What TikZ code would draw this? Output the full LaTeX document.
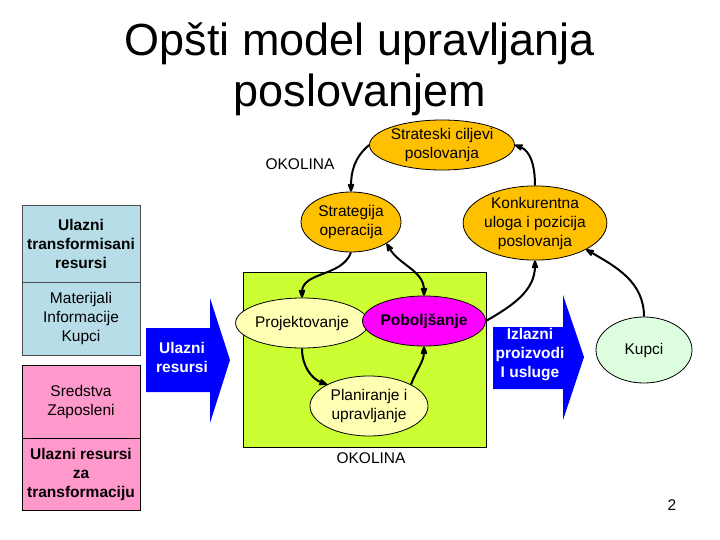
\documentclass[tikz,border=0pt]{standalone}
\usepackage{fontspec}
\setmainfont{Liberation Sans}
\usetikzlibrary{arrows.meta, positioning, shapes.geometric}
\definecolor{boxblue}{HTML}{B7DDE8}
\definecolor{boxpink}{HTML}{FF99CC}
\definecolor{boxgreen}{HTML}{CCFF33}
\definecolor{ovorange}{HTML}{FFC000}
\definecolor{ovyellow}{HTML}{FFFFB3}
\definecolor{ovmint}{HTML}{DDFFE0}
\definecolor{ovmagenta}{HTML}{FF00FF}
\definecolor{arrblue}{HTML}{0000FF}
\begin{document}
\begin{tikzpicture}[x=1pt,y=-1pt,>={Stealth[round]},
	res/.style={draw=black!70,thick,align=center,minimum width=118pt,inner sep=1pt,font=\fontsize{15.5}{19}\selectfont},
	oval/.style={ellipse,draw=black,thick,align=center,inner sep=0pt,font=\fontsize{15.5}{19}\selectfont},
	flow/.style={->,line width=2pt}]
	
	\useasboundingbox (0,0) rectangle (720,540);
	
	\node at (360,44) {\fontsize{45}{50}\selectfont Opšti model upravljanja};
	\node at (360,95) {\fontsize{45}{50}\selectfont poslovanjem};
	
	% ulazni resursi
	\node (uts) [res,fill=boxblue,minimum height=77pt] at (81,243.5) {\textbf{Ulazni}\\\textbf{transformisani}\\\textbf{resursi}};
	\node (mat) [res,fill=boxblue,minimum height=73pt] at (81,318.5) {Materijali\\Informacije\\Kupci};
	\node (sre) [res,fill=boxpink,minimum height=73pt,draw=black] at (81,401.5) {Sredstva\\Zaposleni};
	\node (urz) [res,fill=boxpink,minimum height=72pt,draw=black] at (81,474) {\textbf{Ulazni resursi}\\\textbf{za}\\\textbf{transformaciju}};
	
	% velike strelice
	\fill[arrblue] (146,328) -- (210,328) -- (210,298) -- (230,360) -- (210,423) -- (210,392) -- (146,392) -- cycle;
	\node (ulr) [white,align=center,font=\fontsize{15.5}{19}\selectfont\bfseries] at (182,357) {Ulazni\\resursi};
	\fill[arrblue] (493,327) -- (563,327) -- (563,295) -- (584,357) -- (563,420) -- (563,389) -- (493,389) -- cycle;
	\node (izl) [white,align=center,font=\fontsize{15.5}{19}\selectfont\bfseries] at (530,355) {Izlazni\\proizvodi\\I usluge};
	
	\node (proces) [draw=black,thick,fill=boxgreen,minimum width=243pt,minimum height=175pt] at (364.5,359.5) {};
	
	\node (okg) [font=\fontsize{15.5}{19}\selectfont] at (300,164) {OKOLINA};
	\node (okd) [font=\fontsize{15.5}{19}\selectfont] at (371,458) {OKOLINA};
	
	\node (cilj) [oval,fill=ovorange,minimum width=130pt,minimum height=50pt] at (442,145) {Strateski ciljevi\\poslovanja};
	\node (str) [oval,fill=ovorange,minimum width=100pt,minimum height=60pt] at (351,222) {Strategija\\operacija};
	\node (konk) [oval,fill=ovorange,minimum width=132pt,minimum height=72pt] at (535,223) {Konkurentna\\uloga i pozicija\\poslovanja};
	\node (proj) [oval,fill=ovyellow,minimum width=108pt,minimum height=50pt] at (302,323) {Projektovanje};
	\node (pob) [oval,fill=ovmagenta,minimum width=100pt,minimum height=50pt,font=\fontsize{15.5}{19}\selectfont\bfseries] at (424,321) {Poboljšanje};
	\node (plan) [oval,fill=ovyellow,minimum width=118pt,minimum height=60pt] at (369,406) {Planiranje i\\upravljanje};
	\node (kup) [oval,fill=ovmint,minimum width=96pt,minimum height=66pt] at (644,350) {Kupci};
	
	\draw[flow] (cilj.west) to[out=220,in=90] (str.north);
	\draw[flow] (konk.north) to[out=90,in=-20] (cilj.east);
	\draw[flow] (str.south) to[out=250,in=90] (proj.north);
	\draw[flow,<->] (str.south east) to[out=-60,in=90] (pob.north);
	\draw[flow] (proj.south) to[out=-90,in=160] (plan.north west);
	\draw[flow] (plan.north east) to[out=70,in=-90] (pob.south);
	\draw[flow] (pob.east) to[out=30,in=-90] (konk.south);
	\draw[flow] (kup.north) to[out=90,in=-30] (konk.south east);
	
	\node (nr) [font=\fontsize{15.5}{19}\selectfont] at (672,505) {2};
\end{tikzpicture}
\end{document}
